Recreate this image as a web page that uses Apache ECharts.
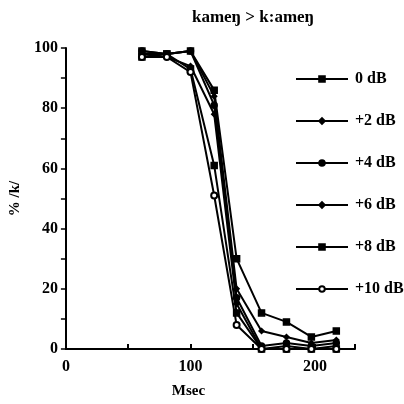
<!DOCTYPE html>
<html>
<head>
<meta charset="utf-8">
<script src="https://cdn.jsdelivr.net/npm/echarts@6/dist/echarts.min.js"></script>
<style>
  html, body { margin: 0; padding: 0; background: #fff; }
  #main { width: 404px; height: 404px; }
</style>
</head>
<body>
<div id="main"></div>
<script>
// closure duration (ms) at each measured point
var msec = [61, 81, 100, 119, 137, 157, 177, 197, 217];
var seriesNames = ['0 dB', '+2 dB', '+4 dB', '+6 dB', '+8 dB', '+10 dB'];
var db0 = [99, 98, 99, 86, 30, 12, 9, 4, 6];
var db2 = [98, 98, 99, 84, 20, 6, 4, 2, 3];
var db4 = [99, 98, 99, 81, 17, 1, 2, 1, 2];
var db6 = [98, 97, 94, 78, 15, 0, 1, 0, 1];
var db8 = [97, 98, 93, 61, 12, 0, 0, 0, 0];
var db10 = [97, 97, 92, 51, 8, 0, 0, 0, 0];
var yTicks = [0, 20, 40, 60, 80, 100];
var xTicks = [0, 100, 200];

var allValues = [db0, db2, db4, db6, db8, db10];
var symbols = ['rect', 'diamond', 'circle', 'diamond', 'rect', 'emptyCircle'];
var symbolSizes = [6, 5, 6, 5, 6, 6];

var font = '"Liberation Serif", "DejaVu Serif", serif';

var chart = echarts.init(document.getElementById('main'));

var series = [];
for (var i = 0; i < seriesNames.length; i++) {
  series.push({
    name: seriesNames[i],
    type: 'line',
    data: msec.map(function (m, j) { return [m, allValues[i][j]]; }),
    symbol: symbols[i],
    symbolSize: symbolSizes[i],
    lineStyle: { color: '#000', width: 2 },
    itemStyle: { color: '#000', borderColor: '#000', borderWidth: 1.5 },
    emphasis: { disabled: true },
    animation: false
  });
}

var option = {
  backgroundColor: '#fff',
  animation: false,
  title: {
    text: 'kameŋ > k:ameŋ',
    left: 248,
    top: 4,
    textAlign: 'center',
    textStyle: { fontFamily: font, fontWeight: 'bold', fontSize: 17, color: '#000' }
  },
  legend: {
    orient: 'vertical',
    left: 290,
    top: 66,
    itemWidth: 52,
    itemHeight: 7,
    itemGap: 26,
    data: seriesNames,
    textStyle: { fontFamily: font, fontWeight: 'bold', fontSize: 16, color: '#000', padding: [0, 0, 0, 2] }
  },
  grid: { left: 61, right: 49, top: 48, bottom: 55 },
  xAxis: {
    type: 'value',
    min: 0,
    max: 232,
    interval: 50,
    name: 'Msec',
    nameLocation: 'middle',
    nameGap: 35,
    nameTextStyle: { fontFamily: font, fontWeight: 'bold', fontSize: 15, color: '#000', padding: [0, 44, 0, 0] },
    axisLine: { lineStyle: { color: '#000', width: 2 } },
    axisTick: { inside: true, length: 5, lineStyle: { color: '#000', width: 2 } },
    axisLabel: {
      margin: 10,
      alignMinLabel: 'center',
      fontFamily: font, fontWeight: 'bold', fontSize: 16, color: '#000',
      formatter: function (v) { return xTicks.indexOf(v) >= 0 ? String(v) : ''; }
    },
    splitLine: { show: false }
  },
  yAxis: {
    type: 'value',
    min: 0,
    max: 100,
    interval: 10,
    name: '% /k/',
    nameLocation: 'middle',
    nameGap: 25,
    nameRotate: 90,
    nameTextStyle: { fontFamily: font, fontWeight: 'bold', fontSize: 15, color: '#000' },
    axisLine: { show: true, lineStyle: { color: '#000', width: 2 } },
    axisTick: { show: true, length: 5, lineStyle: { color: '#000', width: 1.5 } },
    axisLabel: {
      margin: 8,
      fontFamily: font, fontWeight: 'bold', fontSize: 16, color: '#000',
      formatter: function (v) { return yTicks.indexOf(v) >= 0 ? String(v) : ''; }
    },
    splitLine: { show: false }
  },
  series: series
};

chart.setOption(option);
</script>
</body>
</html>
